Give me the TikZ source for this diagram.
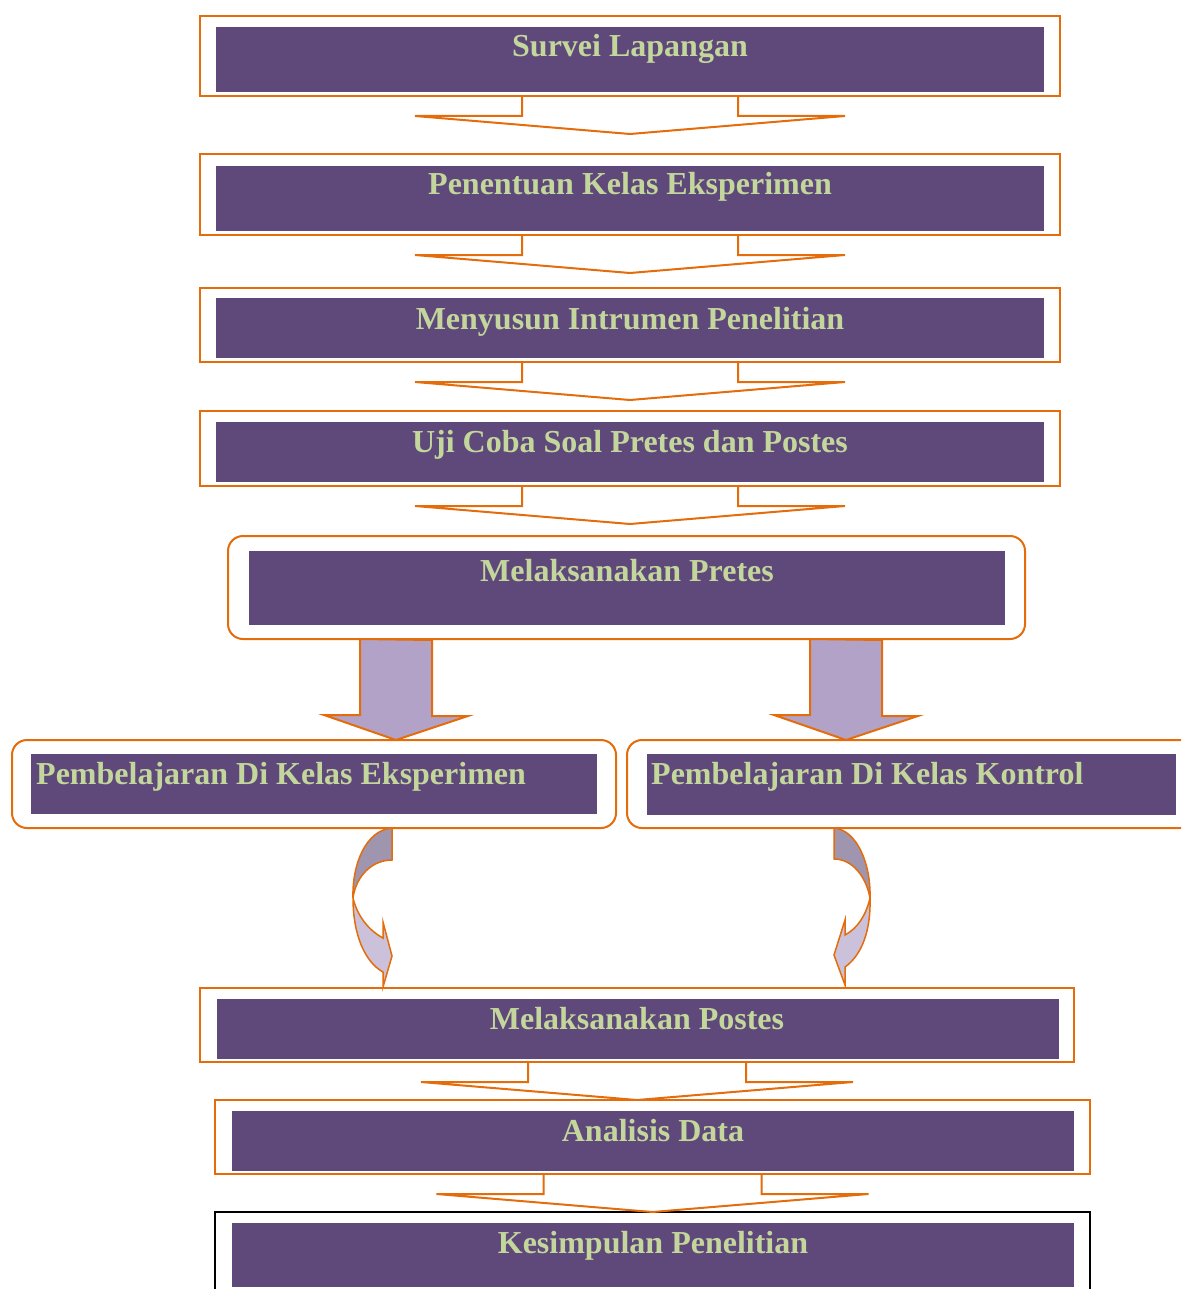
\documentclass[tikz,border=0pt]{standalone}
\usepackage{fontspec}
\setmainfont{Liberation Serif}
\usetikzlibrary{calc}

\definecolor{boxorange}{HTML}{E46C0A}
\definecolor{boxpurple}{HTML}{5F497A}
\definecolor{textgreen}{HTML}{C3D69B}
\definecolor{arrowlilac}{HTML}{B2A2C7}
\definecolor{curvedark}{HTML}{A095AF}
\definecolor{curvelight}{HTML}{CCC1DA}

\tikzset{
  outerbox/.style={draw=boxorange, line width=2pt, inner sep=0pt, outer sep=0pt},
  innerbox/.style={fill=boxpurple, inner sep=0pt, outer sep=0pt},
  steptext/.style={text=textgreen, font=\fontsize{32}{36}\selectfont\bfseries,
    inner sep=0pt, anchor=base},
  notch/.style={draw=boxorange, line width=2pt, line join=miter},
  bigarrow/.style={draw=boxorange, line width=2pt, fill=arrowlilac},
  curved/.style={draw=boxorange, line width=1.5pt},
}

% open arrow under a box
\newcommand\stepdown[2]{%
  \draw[notch] ($(#1.south)+(-#2,0)$) -- ++(0,20) -- ++(-107,0)
    -- ($(#1.south)+(0,38)$) -- ($(#1.south)+(#2+107,20)$) -- ++(-107,0) -- ++(0,-20);}

\begin{document}
\begin{tikzpicture}[x=1pt, y=-1pt]
\useasboundingbox (0,0) rectangle (1181,1289);
\clip (0,0) rectangle (1181,1289);

% top chain
\node[outerbox, minimum width=860pt, minimum height=80pt] (survei) at (630,56) {};
\node[innerbox, minimum width=828pt, minimum height=65pt] (survei-in) at (630,59.5) {};
\node[steptext] (survei-t) at (630,57) {Survei Lapangan};

\node[outerbox, minimum width=860pt, minimum height=81pt] (kelas) at (630,194.5) {};
\node[innerbox, minimum width=828pt, minimum height=65pt] (kelas-in) at (630,198.5) {};
\node[steptext] (kelas-t) at (630,195) {Penentuan Kelas Eksperimen};

\node[outerbox, minimum width=860pt, minimum height=74pt] (instrumen) at (630,325) {};
\node[innerbox, minimum width=828pt, minimum height=60pt] (instrumen-in) at (630,328) {};
\node[steptext] (instrumen-t) at (630,329) {Menyusun Intrumen Penelitian};

\node[outerbox, minimum width=860pt, minimum height=75pt] (ujicoba) at (630,448.5) {};
\node[innerbox, minimum width=828pt, minimum height=60pt] (ujicoba-in) at (630,452) {};
\node[steptext] (ujicoba-t) at (630,452) {Uji Coba Soal Pretes dan Postes};

\stepdown{survei}{108}
\stepdown{kelas}{108}
\stepdown{instrumen}{108}
\stepdown{ujicoba}{108}

% pretes
\node[outerbox, rounded corners=15pt, minimum width=797pt, minimum height=103pt] (pretes) at (626.5,587.5) {};
\node[innerbox, minimum width=756pt, minimum height=74pt] (pretes-in) at (627,588) {};
\node[steptext] (pretes-t) at (627,581) {Melaksanakan Pretes};

% two classes
\node[outerbox, rounded corners=15pt, minimum width=604pt, minimum height=88pt] (eksp) at (314,784) {};
\node[innerbox, minimum width=566pt, minimum height=60pt] (eksp-in) at (314,784) {};
\node[steptext, anchor=base west] (eksp-t) at (36,784) {Pembelajaran Di Kelas Eksperimen};

\node[outerbox, rounded corners=15pt, minimum width=568pt, minimum height=88pt] (kontrol) at (911,784) {};
\node[innerbox, minimum width=529pt, minimum height=61pt] (kontrol-in) at (911.5,784.5) {};
\node[steptext, anchor=base west] (kontrol-t) at (651,784) {Pembelajaran Di Kelas Kontrol};

\coordinate (tipL) at (396,740);
\coordinate (tipR) at (846,740);
\foreach \tip in {tipL, tipR} {
  \draw[bigarrow] ($(pretes.south -| \tip)+(-36,0)$) -- ++(0,76) -- ++(-36,0)
    -- (\tip) -- ++(72,-24) -- ++(-36,0) -- ++(0,-76) -- cycle;
}

% postes and the rest
\node[outerbox, minimum width=874pt, minimum height=74pt] (postes) at (637,1025) {};
\node[innerbox, minimum width=842pt, minimum height=60pt] (postes-in) at (638,1029) {};
\node[steptext] (postes-t) at (637,1029) {Melaksanakan Postes};

\node[outerbox, minimum width=875pt, minimum height=74pt] (analisis) at (652.5,1137) {};
\node[innerbox, minimum width=842pt, minimum height=60pt] (analisis-in) at (653,1141) {};
\node[steptext] (analisis-t) at (653,1141) {Analisis Data};

\node[outerbox, draw=black, minimum width=875pt, minimum height=88pt] (kesimpulan) at (652.5,1256) {};
\node[innerbox, minimum width=842pt, minimum height=64pt] (kesimpulan-in) at (653,1255) {};
\node[steptext] (kesimpulan-t) at (653,1253) {Kesimpulan Penelitian};

\stepdown{postes}{109}
\stepdown{analisis}{109}

% curved arrows into postes
\draw[curved, fill=curvedark] (392,828) -- (392,860)
  .. controls (372,860) and (356,876) .. (353,898)
  .. controls (352,864) and (366,830) .. (392,828) -- cycle;
\draw[curved, fill=curvelight] (353,898)
  .. controls (353,935) and (365,962) .. (383,972)
  -- (383,987) -- (392,956) -- (383,922) -- (383,938)
  .. controls (368,930) and (357,915) .. (353,898) -- cycle;

\draw[curved, fill=curvedark] (834,828) -- (834,859)
  .. controls (852,859) and (866,876) .. (870,898)
  .. controls (871,864) and (857,830) .. (834,828) -- cycle;
\draw[curved, fill=curvelight] (870,898)
  .. controls (871,930) and (862,955) .. (845,967)
  -- (845,985) -- (834,955) -- (845,920) -- (845,935)
  .. controls (858,928) and (866,915) .. (870,898) -- cycle;
\end{tikzpicture}
\end{document}
